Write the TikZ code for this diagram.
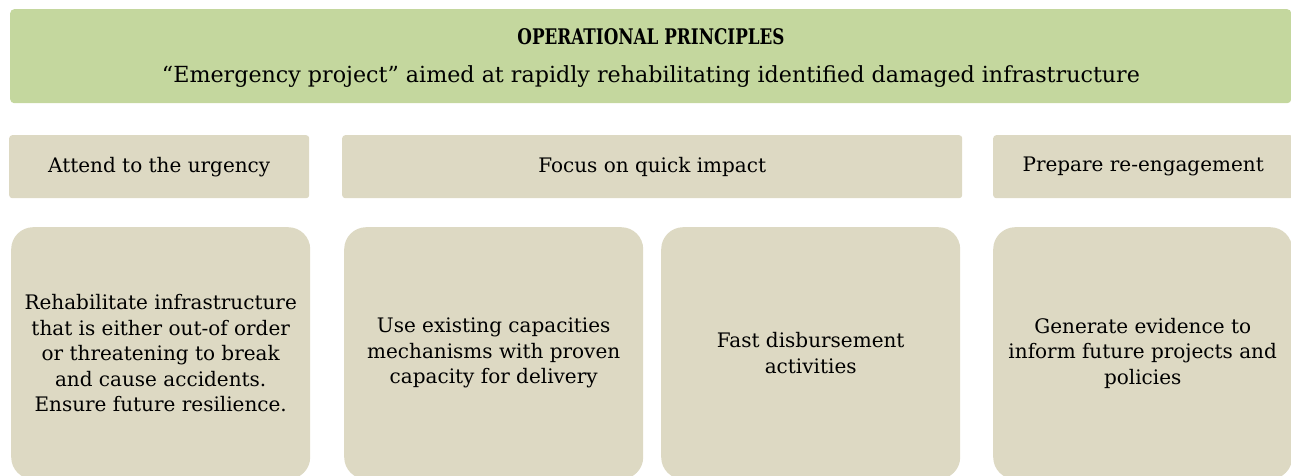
\documentclass[tikz,border=0pt]{standalone}
\usepackage{fontspec}
\setmainfont{DejaVu Serif}
\usetikzlibrary{positioning}

\definecolor{bannergreen}{RGB}{196,215,158}
\definecolor{tanfill}{RGB}{221,217,195}

\begin{document}
\begin{tikzpicture}[
  x=1pt, y=-1pt,
  banner/.style={rectangle, fill=bannergreen, rounded corners=4pt, anchor=north west,
                 minimum width=1281pt, minimum height=94pt, inner sep=0pt},
  bannertext/.style={anchor=base, inner sep=0pt},
  head/.style={rectangle, fill=tanfill, rounded corners=3pt, anchor=north west,
               minimum height=63pt, inner sep=0pt, font=\fontsize{20}{24}\selectfont},
  card/.style={rectangle, fill=tanfill, rounded corners=22pt, anchor=north west,
               minimum width=299pt, minimum height=252pt, inner sep=0pt,
               align=center, font=\fontsize{20}{25.5}\selectfont}
]
\clip (0,0) rectangle (1291,476);

% top banner
\node[banner] (principles) at (10,9) {};
\node[bannertext, font=\bfseries\fontsize{21.5}{24}\selectfont] (title) at (651,45)
  {\scalebox{0.78}[1]{OPERATIONAL PRINCIPLES}};
\node[bannertext, font=\fontsize{22.2}{26}\selectfont] (subtitle) at (651,83)
  {``Emergency project'' aimed at rapidly rehabilitating identified damaged infrastructure};

% column headings
\node[head, minimum width=300pt] (urgency) at (9,135) {Attend to the urgency};
\node[head, minimum width=620pt] (impact) at (342,135) {Focus on quick impact};
\node[head, minimum width=300pt] (reengage) at (993,135) {Prepare re-engagement};

% cards
\node[card] (rehab) at (11,227)
  {Rehabilitate infrastructure\\that is either out-of order\\or threatening to break\\and cause accidents.\\Ensure future resilience.};
\node[card] (capacity) at (344,227)
  {Use existing capacities\\mechanisms with proven\\capacity for delivery};
\node[card] (disburse) at (661,227) {Fast disbursement\\activities};
\node[card] (evidence) at (993,227)
  {Generate evidence to\\inform future projects and\\policies};

\end{tikzpicture}
\end{document}
